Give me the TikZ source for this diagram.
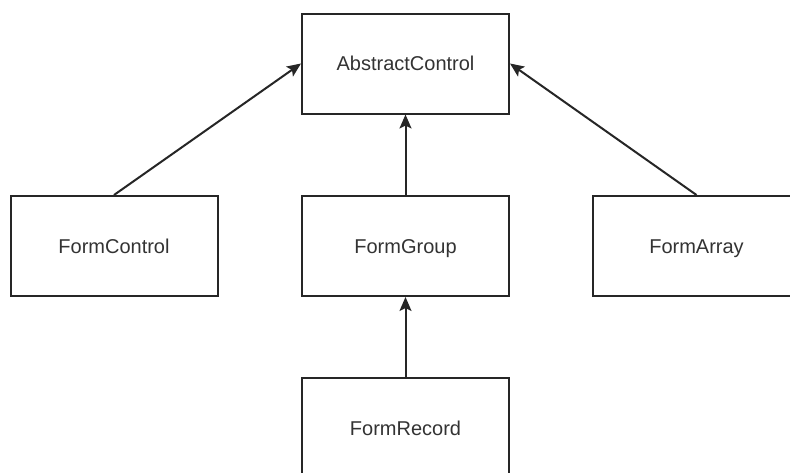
\documentclass[tikz,border=0pt]{standalone}
\usepackage{fontspec}
\setmainfont{Liberation Sans}
\usetikzlibrary{arrows.meta}
\begin{document}
\begin{tikzpicture}[x=1pt,y=-1pt,
  cls/.style={draw=black!85, line width=2pt, fill=white, minimum width=207pt, minimum height=100pt, inner sep=0pt, text height=14.3pt, text depth=0pt, font=\fontsize{20pt}{24pt}\selectfont, text=black!80},
  inh/.style={draw=black!85, line width=2pt, -{Stealth[length=14pt,width=12pt,inset=3pt]}}]
\clip (0,0) rectangle (790,472);
\fill[white] (0,0) rectangle (790,472);
\node[cls] (ac) at (405.5,63.5) {AbstractControl};
\node[cls] (fc) at (114,246) {FormControl};
\node[cls] (fg) at (405.5,246) {FormGroup};
\node[cls] (fa) at (696.5,246) {FormArray};
\node[cls] (fr) at (405.5,428) {FormRecord};
\draw[inh] (fc.north) -- (ac.west);
\draw[inh] (fa.north) -- (ac.east);
\draw[inh] (fg.north) -- (ac.south);
\draw[inh] (fr.north) -- (fg.south);
\end{tikzpicture}
\end{document}
